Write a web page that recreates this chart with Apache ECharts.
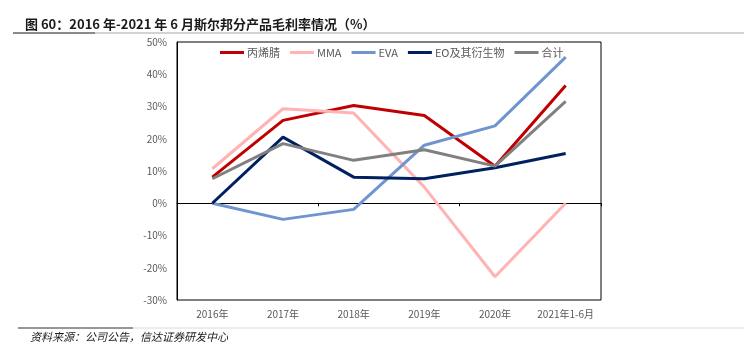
<!DOCTYPE html>
<html>
<head>
<meta charset="utf-8">
<script src="https://cdn.jsdelivr.net/npm/echarts@6/dist/echarts.min.js"></script>
<style>
  html, body { margin: 0; padding: 0; background: #fff; }
  #chart { width: 744px; height: 351px; }
</style>
</head>
<body>
<div id="chart"></div>
<script>
// 数据
var years = ['2016年', '2017年', '2018年', '2019年', '2020年', '2021年1-6月'];
var acrylonitrile = [8.1, 25.7, 30.3, 27.2, 11.5, 36.5];
var mma = [10.7, 29.3, 28.0, 5.0, -22.8, 0.0];
var eva = [0.0, -5.0, -1.9, 18.0, 24.0, 45.3];
var eo = [0.0, 20.5, 8.1, 7.6, 11.0, 15.4];
var total = [7.6, 18.5, 13.3, 16.6, 11.5, 31.6];

var font = '"Noto Sans CJK SC", "Liberation Sans", sans-serif';

var chart = echarts.init(document.getElementById('chart'), null, { renderer: 'canvas' });

function line(name, data, color) {
  return {
    name: name,
    type: 'line',
    data: data,
    symbol: 'none',
    lineStyle: { width: 3, color: color },
    itemStyle: { color: color }
  };
}

var option = {
  backgroundColor: '#fff',
  animation: false,
  textStyle: { fontFamily: font },
  title: {
    text: '图 60：2016 年-2021 年 6 月斯尔邦分产品毛利率情况（%）',
    left: 20,
    top: 13,
    textStyle: { fontSize: 13, fontWeight: 'bold', color: '#1a1a1a', fontFamily: font }
  },
  legend: {
    top: 42,
    left: 215,
    icon: 'rect',
    itemWidth: 24,
    itemHeight: 3,
    itemGap: 10,
    textStyle: { fontSize: 11, color: '#595959', fontFamily: font, padding: [0, 0, 0, -2] },
    data: ['丙烯腈', 'MMA', 'EVA', 'EO及其衍生物', '合计']
  },
  grid: {
    left: 177,
    right: 143,
    top: 42,
    bottom: 51,
    outerBoundsMode: 'none',
    show: true,
    borderColor: '#000',
    borderWidth: 1
  },
  xAxis: [{
    // 底部标签
    type: 'category',
    data: years,
    position: 'bottom',
    axisLine: { show: false, onZero: false },
    axisTick: { show: false },
    axisLabel: { interval: 0, fontSize: 10, color: '#595959', margin: 9, fontFamily: font }
  }, {
    // 0 轴线与刻度
    type: 'category',
    data: years,
    position: 'bottom',
    axisLine: { show: true, onZero: true, lineStyle: { color: '#000', width: 1 } },
    axisTick: { show: true, length: 3, lineStyle: { color: '#000' } },
    axisLabel: { show: false }
  }],
  yAxis: {
    type: 'value',
    min: -30,
    max: 50,
    interval: 10,
    axisLine: { show: true, lineStyle: { color: '#000' } },
    axisTick: { show: false },
    splitLine: { show: false },
    axisLabel: { formatter: '{value}%', fontSize: 10, color: '#595959', margin: 10, fontFamily: font }
  },
  graphic: [
    { type: 'line', shape: { x1: 13, y1: 33, x2: 744, y2: 33 }, style: { stroke: '#a6a6a6', lineWidth: 1 } },
    { type: 'line', shape: { x1: 13, y1: 33, x2: 95, y2: 33 }, style: { stroke: '#404040', lineWidth: 1 } },
    { type: 'line', shape: { x1: 18, y1: 328, x2: 744, y2: 328 }, style: { stroke: '#d9d9d9', lineWidth: 1 } },
    { type: 'line', shape: { x1: 18, y1: 328, x2: 133, y2: 328 }, style: { stroke: '#404040', lineWidth: 1 } },
    { type: 'text', left: 30, top: 331,
      style: { text: '资料来源：公司公告，信达证券研发中心', fontSize: 11, fontStyle: 'italic', fill: '#1a1a1a', fontFamily: font } }
  ],
  series: [
    line('丙烯腈', acrylonitrile, '#C00000'),
    line('MMA', mma, '#FFB3B3'),
    line('EVA', eva, '#7094CF'),
    line('EO及其衍生物', eo, '#002060'),
    line('合计', total, '#808080')
  ]
};

chart.setOption(option);
</script>
</body>
</html>
